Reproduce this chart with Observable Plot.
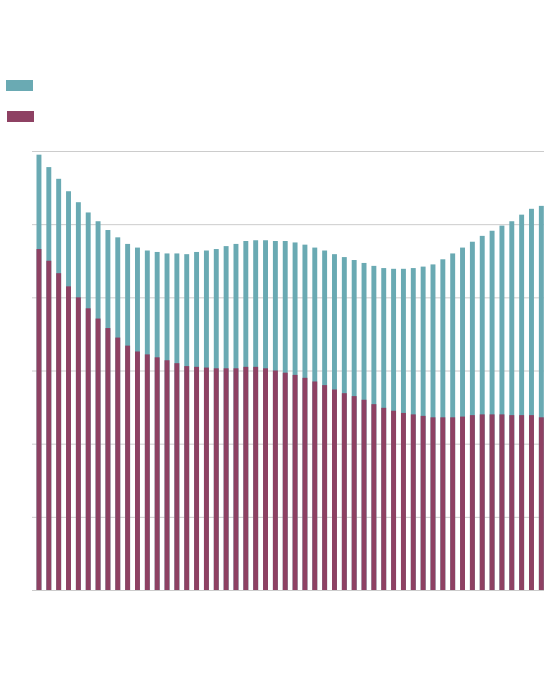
<!DOCTYPE html>
<html>
<head>
<meta charset="utf-8">
<script src="https://cdn.jsdelivr.net/npm/d3@7"></script>
<script src="https://cdn.jsdelivr.net/npm/@observablehq/plot@0.6"></script>
<style>
  html, body { margin: 0; padding: 0; background: #fff; font-family: "Noto Sans", sans-serif; }
  #legend { position: relative; width: 560px; height: 140px; }
  .sw { position: absolute; width: 27px; height: 11px; }
  #chart svg { display: block; }
</style>
</head>
<body>
<div id="legend">
  <div class="sw" style="left:6px; top:80px; background:#6aaab3;"></div>
  <div class="sw" style="left:7px; top:111px; background:#8e4163;"></div>
</div>
<div id="chart"></div>
<script>
// categories (periods, unlabeled in the reference)
const categories = d3.range(1, 53);
// total bar height (teal top)
const totals = [59.5, 57.8, 56.2, 54.5, 53.0, 51.6, 50.4, 49.2, 48.2, 47.3, 46.8, 46.4, 46.2, 46.0, 46.0, 45.9, 46.2, 46.4, 46.6, 47.0,
  47.3, 47.7, 47.8, 47.8, 47.7, 47.7, 47.5, 47.2, 46.8, 46.4, 45.9, 45.5, 45.1, 44.7, 44.3, 44.0, 43.9, 43.9, 44.0, 44.2,
  44.5, 45.2, 46.0, 46.8, 47.6, 48.4, 49.1, 49.8, 50.4, 51.3, 52.1, 52.5];
// lower series (maroon)
const lower = [46.6, 45.0, 43.3, 41.5, 40.0, 38.5, 37.1, 35.8, 34.5, 33.4, 32.6, 32.2, 31.8, 31.4, 31.0, 30.6, 30.5, 30.4, 30.3, 30.3,
  30.3, 30.5, 30.5, 30.3, 30.0, 29.7, 29.4, 29.0, 28.5, 28.0, 27.4, 26.9, 26.5, 26.0, 25.4, 24.9, 24.5, 24.2, 24.0, 23.8,
  23.6, 23.6, 23.6, 23.7, 23.9, 24.0, 24.0, 24.0, 23.9, 23.9, 23.9, 23.6];
const gridTicks = [0, 10, 20, 30, 40, 50, 60];

const rows = categories.map((c, i) => ({cat: c, total: totals[i], lower: lower[i]}));

const chart = Plot.plot({
  width: 560,
  height: 552,
  marginTop: 11,
  marginBottom: 102,
  marginLeft: 32,
  marginRight: 16,
  x: {type: "band", domain: categories, paddingInner: 0.5, paddingOuter: 0, insetLeft: 4.5, insetRight: 0.2, axis: null},
  y: {domain: [0, 60], axis: null},
  marks: [
    Plot.ruleY(gridTicks, {stroke: "#cccccc", strokeWidth: 1}),
    Plot.barY(rows, {x: "cat", y: "total", fill: "#6aaab3"}),
    Plot.barY(rows, {x: "cat", y: "lower", fill: "#8e4163"})
  ]
});
document.getElementById("chart").appendChild(chart);
</script>
</body>
</html>
